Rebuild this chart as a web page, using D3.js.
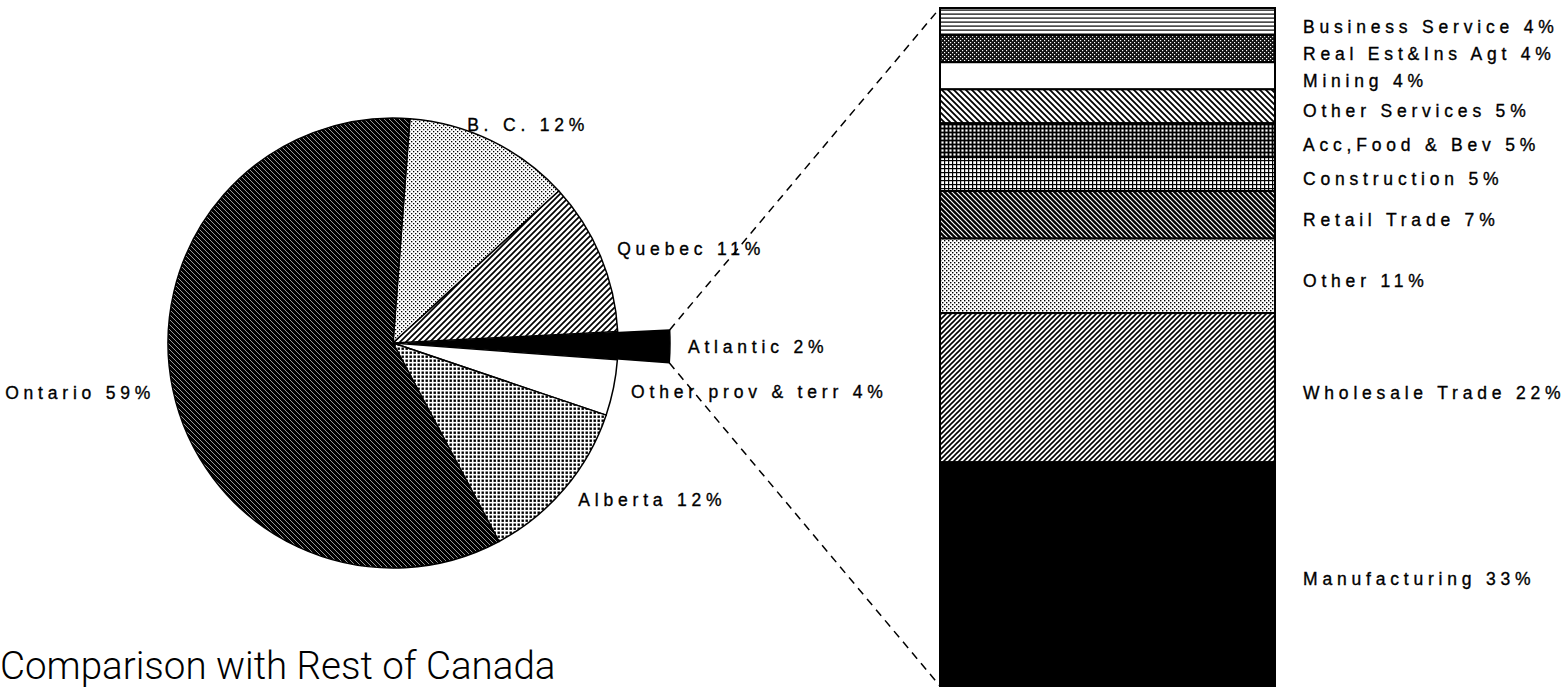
<!DOCTYPE html>
<html>
<head>
<meta charset="utf-8">
<script src="https://cdn.jsdelivr.net/npm/d3@7"></script>
<style>
body { margin: 0; background: #fff; }
text { font-family: "Liberation Sans", Arial, sans-serif; fill: #000; }
</style>
</head>
<body>
<svg id="chart" width="1564" height="688"></svg>
<script>
// provinces (clockwise from the top)
var provinces = ["B. C.", "Quebec", "Atlantic", "Other prov & terr", "Alberta", "Ontario"];
var provShares = [12, 11, 2, 4, 12, 59];
var provFills = ["bc", "quebec", "black", "white", "alberta", "ontario"];
// industries of the Atlantic slice, top to bottom
var industries = ["Business Service", "Real Est&Ins Agt", "Mining", "Other Services", "Acc,Food & Bev",
	"Construction", "Retail Trade", "Other", "Wholesale Trade", "Manufacturing"];
var industryShares = [4, 4, 4, 5, 5, 5, 7, 11, 22, 33];
var industryFills = ["hlines", "darkdots", "white", "wideback", "darkgrid", "lightgrid", "retail", "stipple", "fwd", "black"];
var title = "Comparison with Rest of Canada";

var svg = d3.select("#chart");
var defs = svg.append("defs");

//make the hatch patterns
var makePattern = function(id, size, bg, draw){
	var p = defs.append("pattern")
		.attr("id", id)
		.attr("patternUnits", "userSpaceOnUse")
		.attr("width", size)
		.attr("height", size);
	p.append("rect").attr("width", size).attr("height", size).attr("fill", bg);
	draw(p, size);
};
var diag = function(p, s, dir, color, w){
	var d = dir == "back"
		? "M0,0 L" + s + "," + s + " M" + (-s) + ",0 L" + s + "," + (2 * s) + " M0," + (-s) + " L" + (2 * s) + "," + s
		: "M0," + s + " L" + s + ",0 M" + (-s) + "," + s + " L" + s + "," + (-s) + " M0," + (2 * s) + " L" + (2 * s) + ",0";
	p.append("path").attr("d", d).attr("stroke", color).attr("stroke-width", w);
};
var dots = function(p, color, w){
	p.append("rect").attr("x", 0).attr("y", 0).attr("width", w).attr("height", w).attr("fill", color);
	p.append("rect").attr("x", 2).attr("y", 2).attr("width", w).attr("height", w).attr("fill", color);
};
makePattern("ontario", 5, "#000", function(p, s){ diag(p, s, "back", "#fff", 0.6); });
makePattern("bc", 4, "#fff", function(p){ dots(p, "#000", 1.3); });
makePattern("stipple", 4, "#fff", function(p){ dots(p, "#000", 1.4); });
makePattern("quebec", 6, "#fff", function(p, s){ diag(p, s, "fwd", "#000", 1.7); });
makePattern("alberta", 4, "#fff", function(p){
	p.append("rect").attr("x", 0.5).attr("y", 0.5).attr("width", 2.4).attr("height", 2.4).attr("fill", "#000");
});
makePattern("hlines", 4, "#fff", function(p){
	p.append("rect").attr("x", 0).attr("y", 1.5).attr("width", 4).attr("height", 1.2).attr("fill", "#000");
});
makePattern("darkdots", 4, "#111", function(p){ dots(p, "#fff", 1.2); });
makePattern("wideback", 6, "#fff", function(p, s){ diag(p, s, "back", "#000", 1.8); });
makePattern("darkgrid", 4, "#000", function(p){
	p.append("rect").attr("x", 1.4).attr("y", 1.4).attr("width", 2.2).attr("height", 2.2).attr("fill", "#fff");
});
makePattern("lightgrid", 4, "#fff", function(p){
	p.append("rect").attr("x", 0).attr("y", 0).attr("width", 4).attr("height", 1.2).attr("fill", "#000");
	p.append("rect").attr("x", 0).attr("y", 0).attr("width", 1.2).attr("height", 4).attr("fill", "#000");
});
makePattern("retail", 5, "#000", function(p, s){ diag(p, s, "back", "#fff", 1.2); });
makePattern("fwd", 5, "#fff", function(p, s){ diag(p, s, "fwd", "#000", 1.6); });

var fillOf = function(f){
	if (f == "black") return "#000";
	if (f == "white") return "#fff";
	return "url(#" + f + ")";
};

//pie
var cx = 393, cy = 343, r = 225;
var explode = 15, atlExtra = 37;
var startAt = 4.3 * Math.PI / 180;
var pie = d3.pie().sort(null)
	.startAngle(startAt).endAngle(startAt + 2 * Math.PI);
var arcs = pie(provShares);
var isAtl = function(i){ return provinces[i] == "Atlantic"; };
var radiusOf = function(i){ return isAtl(i) ? r + atlExtra : r; };
var offsetOf = function(i){ return isAtl(i) ? explode : 0; };
var arc = d3.arc().innerRadius(0).outerRadius(function(d){ return radiusOf(d.index); });
var shift = function(d, k){
	var m = (d.startAngle + d.endAngle) / 2;
	return [k * Math.sin(m), -k * Math.cos(m)];
};

var g = svg.append("g").attr("transform", "translate(" + cx + "," + cy + ")");
g.selectAll("path.slice")
	.data(arcs)
	.enter().append("path")
	.attr("class", "slice")
	.attr("d", arc)
	.attr("transform", function(d, i){
		var o = shift(d, offsetOf(i));
		return "translate(" + o[0] + "," + o[1] + ")";
	})
	.attr("fill", function(d, i){ return fillOf(provFills[i]); })
	.attr("stroke", "#000")
	.attr("stroke-width", 1.5)
	.attr("stroke-linejoin", "round");

g.selectAll("text.plabel")
	.data(arcs)
	.enter().append("text")
	.attr("class", "plabel")
	.attr("x", function(d, i){ return shift(d, radiusOf(i) + 18 + offsetOf(i))[0]; })
	.attr("y", function(d, i){ return shift(d, radiusOf(i) + 18 + offsetOf(i))[1]; })
	.attr("dy", "0.35em")
	.attr("dx", function(d){
		var s = Math.sin((d.startAngle + d.endAngle) / 2);
		return Math.abs(s) <= 0.5 ? -32 : 0;
	})
	.attr("text-anchor", function(d){
		var s = Math.sin((d.startAngle + d.endAngle) / 2);
		return s < -0.5 ? "end" : "start";
	})
	.attr("font-size", "17.5px")
	.attr("letter-spacing", "4.8px")
	.attr("stroke", "#000")
	.attr("stroke-width", 0.35)
	.text(function(d, i){ return provinces[i] + " " + provShares[i] + "%"; });

//stacked bar for the exploded slice
var y = d3.scaleLinear().domain([0, d3.sum(industryShares)]).range([8, 686]);
var barX = 940, barW = 335;
var stack = [];
var acc = 0;
for (var i = 0; i < industryShares.length; i++){
	stack.push({name: industries[i], v: industryShares[i], y0: acc, y1: acc + industryShares[i], fill: industryFills[i]});
	acc += industryShares[i];
}
svg.selectAll("rect.seg")
	.data(stack)
	.enter().append("rect")
	.attr("class", "seg")
	.attr("x", barX)
	.attr("y", function(d){ return y(d.y0); })
	.attr("width", barW)
	.attr("height", function(d){ return y(d.y1) - y(d.y0); })
	.attr("fill", function(d){ return fillOf(d.fill); })
	.attr("stroke", "#000")
	.attr("stroke-width", 2);

svg.selectAll("text.blabel")
	.data(stack)
	.enter().append("text")
	.attr("class", "blabel")
	.attr("x", barX + barW + 28)
	.attr("y", function(d){ return (y(d.y0) + y(d.y1)) / 2 + 5; })
	.attr("dy", "0.35em")
	.attr("font-size", "17.5px")
	.attr("letter-spacing", "4.8px")
	.attr("stroke", "#000")
	.attr("stroke-width", 0.35)
	.text(function(d){ return d.name + " " + d.v + "%"; });

//dashed connectors from the Atlantic slice to the bar
var ai = provinces.indexOf("Atlantic");
var atl = arcs[ai];
var off = shift(atl, explode);
var corner = function(a){
	return [cx + off[0] + radiusOf(ai) * Math.sin(a), cy + off[1] - radiusOf(ai) * Math.cos(a)];
};
var links = [
	{from: corner(atl.startAngle), to: [barX, y(0)]},
	{from: corner(atl.endAngle), to: [barX, y(d3.sum(industryShares))]}
];
svg.selectAll("line.link")
	.data(links)
	.enter().append("line")
	.attr("class", "link")
	.attr("x1", function(d){ return d.from[0]; })
	.attr("y1", function(d){ return d.from[1]; })
	.attr("x2", function(d){ return d.to[0]; })
	.attr("y2", function(d){ return d.to[1]; })
	.attr("stroke", "#000")
	.attr("stroke-width", 1.5)
	.attr("stroke-dasharray", "8,6");

svg.append("text")
	.attr("x", 0)
	.attr("y", 679)
	.attr("font-size", "38.5px")
	.attr("font-weight", 300)
	.style("font-family", "Roboto, 'Liberation Sans', sans-serif")
	.text(title);
</script>
</body>
</html>
